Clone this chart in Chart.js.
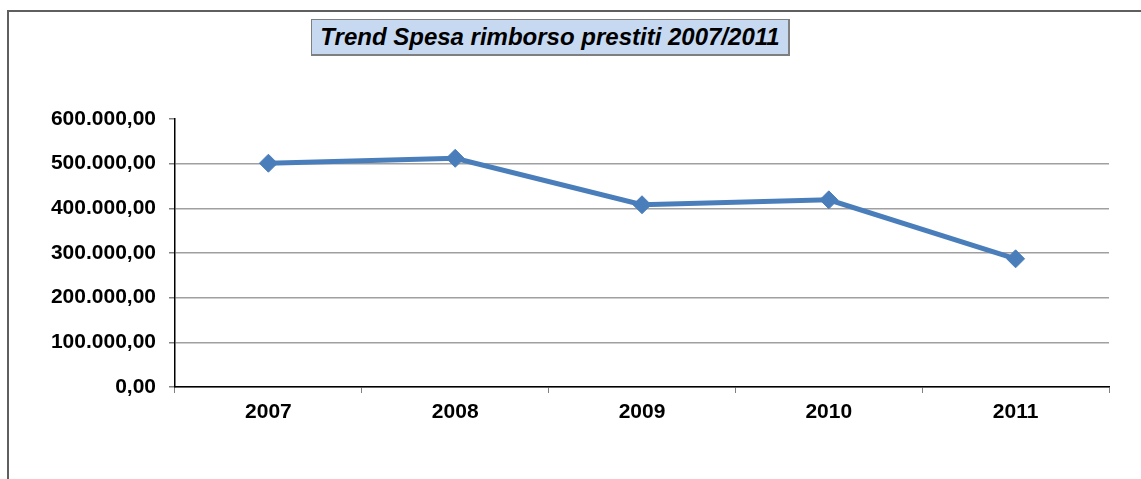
<!DOCTYPE html>
<html>
<head>
<meta charset="utf-8">
<script src="https://cdn.jsdelivr.net/npm/chart.js@4.4.1/dist/chart.umd.min.js"></script>
<style>
  html, body { margin: 0; padding: 0; background: #fff; overflow: hidden; }
  #wrap { position: relative; width: 1141px; height: 479px; }
  #frame { position: absolute; left: 7px; top: 10px; width: 1200px; height: 520px; border: 2px solid #5f5f5f; box-sizing: border-box; }
  #title { position: absolute; left: 311px; top: 19px; width: 479px; height: 37px; box-sizing: border-box;
           background: #c6d9f1; border: 1px solid #7f7f7f; border-right-width: 2px; border-bottom-width: 2px;
           font: italic bold 24px "Liberation Sans", Arial, sans-serif; color: #000;
           display: flex; align-items: center; justify-content: center; z-index: 2; }
  canvas { position: absolute; left: 0; top: 0; }
</style>
</head>
<body>
<div id="wrap">
  <div id="frame"></div>
  <canvas id="c" width="1141" height="479"></canvas>
  <div id="title">Trend Spesa rimborso prestiti 2007/2011</div>
</div>
<script>
const categories = ['2007', '2008', '2009', '2010', '2011'];
const spesaRimborso = [501000, 512000, 408000, 419000, 287000];
const yTickValues = [0, 100000, 200000, 300000, 400000, 500000, 600000];

function fmtIt(v) {
  const s = Math.round(v).toString().replace(/\B(?=(\d{3})+(?!\d))/g, '.');
  return s + ',00';
}

new Chart(document.getElementById('c'), {
  type: 'line',
  data: {
    labels: categories,
    datasets: [{
      data: spesaRimborso,
      borderColor: '#4a7ebb',
      backgroundColor: '#4a7ebb',
      borderWidth: 5,
      pointStyle: 'rectRot',
      pointRadius: 9,
      pointBorderWidth: 1,
      pointBackgroundColor: '#4a7ebb',
      pointBorderColor: '#4a7ebb',
      tension: 0
    }]
  },
  options: {
    responsive: false,
    animation: false,
    devicePixelRatio: 1,
    layout: { padding: { left: 0, right: 32, top: 119, bottom: 52 } },
    plugins: { legend: { display: false }, title: { display: false }, tooltip: { enabled: false } },
    scales: {
      x: {
        offset: true,
        grid: { offset: true, drawOnChartArea: false, drawTicks: true, tickLength: 6, color: '#808080' },
        border: { color: '#000', width: 1.5 },
        ticks: { color: '#000', padding: 7, font: { family: '"Liberation Sans", Arial', size: 21, weight: 'bold' } },
        afterFit: s => { s.height = 40; }
      },
      y: {
        min: 0, max: 600000,
        afterBuildTicks: s => { s.ticks = yTickValues.map(v => ({ value: v })); },
        grid: {
          color: c => (c.tick && c.tick.value === 600000) ? 'rgba(0,0,0,0)' : '#a0a0a0',
          tickColor: '#808080', tickLength: 6, lineWidth: 1.5
        },
        border: { color: '#000', width: 1.5 },
        ticks: { color: '#000', padding: 13, callback: v => fmtIt(v),
                 font: { family: '"Liberation Sans", Arial', size: 21, weight: 'bold' } },
        afterFit: s => { s.width = 175; }
      }
    }
  }
});
</script>
</body>
</html>
